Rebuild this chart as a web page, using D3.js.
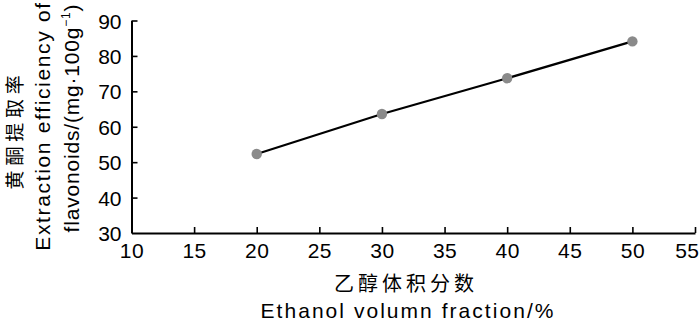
<!DOCTYPE html>
<html>
<head>
<meta charset="utf-8">
<script src="https://cdn.jsdelivr.net/npm/d3@7/dist/d3.min.js"></script>
<style>
  html, body { margin: 0; padding: 0; background: #fff; }
  svg { display: block; }
  text { font-family: "Liberation Sans", Arial, Helvetica, sans-serif; fill: #000; }
  .cjk { font-family: "Noto Sans CJK SC", "Noto Sans CJK JP", sans-serif; }
</style>
</head>
<body>
<svg id="chart" width="700" height="321"></svg>
<script>
// ---- data ----
const ethanolFraction = [20, 30, 40, 50];
const extractionEfficiency = [52.3, 63.6, 73.7, 84.1];
const xTicks = [10, 15, 20, 25, 30, 35, 40, 45, 50, 55];
const yTicks = [30, 40, 50, 60, 70, 80, 90];
const xTitleZh = "乙醇体积分数";
const xTitleEn = "Ethanol volumn fraction/%";
const yTitleZh = "黄酮提取率";
const yTitleEn1 = "Extraction efficiency of";
const yTitleEn2 = "flavonoids/(mg·100g";

// ---- layout ----
const svg = d3.select("#chart");
const x = d3.scaleLinear().domain([10, 55]).range([131.5, 695]);
const y = d3.scaleLinear().domain([30, 90]).range([233, 20.5]);

function fit(sel, target) {
  const n = sel.text().length;
  const len = sel.node().getComputedTextLength();
  sel.attr("letter-spacing", ((target - len) / Math.max(1, n - 1)).toFixed(2));
}

// x axis
const xAxis = svg.append("g")
  .attr("transform", `translate(0,${y(30)})`)
  .call(d3.axisBottom(x).tickValues(xTicks).tickSizeInner(-6).tickSizeOuter(0).tickPadding(10).tickFormat(d3.format("d")));
xAxis.select(".domain").attr("stroke", "#000").attr("stroke-width", 2);
xAxis.selectAll(".tick line").attr("stroke", "#000").attr("stroke-width", 1.6);
xAxis.selectAll(".tick text")
  .attr("font-size", 21).attr("font-family", "Liberation Sans, Arial, sans-serif")
  .attr("fill", "#000").attr("dy", "0.71em").attr("y", 10).attr("letter-spacing", 0.5);
xAxis.selectAll(".tick").filter(d => d === 55).select("text")
  .attr("text-anchor", "end").attr("x", 4);

// y axis
const yAxis = svg.append("g")
  .attr("transform", `translate(${x(10)},0)`)
  .call(d3.axisLeft(y).tickValues(yTicks).tickSizeInner(-6).tickSizeOuter(0).tickPadding(11).tickFormat(d3.format("d")));
yAxis.select(".domain").attr("stroke", "#000").attr("stroke-width", 2);
yAxis.selectAll(".tick line").attr("stroke", "#000").attr("stroke-width", 1.6);
yAxis.selectAll(".tick text")
  .attr("font-size", 21).attr("font-family", "Liberation Sans, Arial, sans-serif")
  .attr("fill", "#000").attr("x", -10).attr("dy", "0.36em");
xAxis.selectAll(".tick").filter(d => d === 10).select("line").remove();
yAxis.selectAll(".tick").filter(d => d === 30).select("line").remove();

// line
const pts = ethanolFraction.map((v, i) => [v, extractionEfficiency[i]]);
svg.append("path")
  .datum(pts)
  .attr("fill", "none")
  .attr("stroke", "#000")
  .attr("stroke-width", 2.2)
  .attr("d", d3.line().x(d => x(d[0])).y(d => y(d[1])));

svg.selectAll("circle.pt")
  .data(pts)
  .enter().append("circle")
  .attr("class", "pt")
  .attr("cx", d => x(d[0]))
  .attr("cy", d => y(d[1]))
  .attr("r", 5.2)
  .attr("fill", "#8a8a8a");

// x titles
const xz = svg.append("text").attr("class", "cjk")
  .attr("x", 406).attr("y", 291).attr("text-anchor", "middle")
  .attr("font-size", 20).text(xTitleZh);
fit(xz, 140);
const xe = svg.append("text")
  .attr("x", 408).attr("y", 318).attr("text-anchor", "middle")
  .attr("font-size", 21).text(xTitleEn);
fit(xe, 293);

// y titles (rotated)
const yz = svg.append("text").attr("class", "cjk")
  .attr("transform", "translate(22,130) rotate(-90)")
  .attr("text-anchor", "middle")
  .attr("font-size", 19).text(yTitleZh);
fit(yz, 114);

const ye1 = svg.append("text")
  .attr("transform", "translate(50,126) rotate(-90)")
  .attr("text-anchor", "middle")
  .attr("font-size", 21).text(yTitleEn1);
fit(ye1, 248);

const ye2 = svg.append("text")
  .attr("transform", "translate(79,118) rotate(-90)")
  .attr("text-anchor", "middle")
  .attr("font-size", 21);
ye2.append("tspan").text(yTitleEn2);
ye2.append("tspan").attr("font-size", 12).attr("dy", -9).text("−1");
ye2.append("tspan").attr("dy", 9).text(")");
{
  const n = (yTitleEn2 + "−1)").length;
  const len = ye2.node().getComputedTextLength();
  ye2.attr("letter-spacing", ((228 - len) / (n - 1)).toFixed(2));
}
</script>
</body>
</html>
